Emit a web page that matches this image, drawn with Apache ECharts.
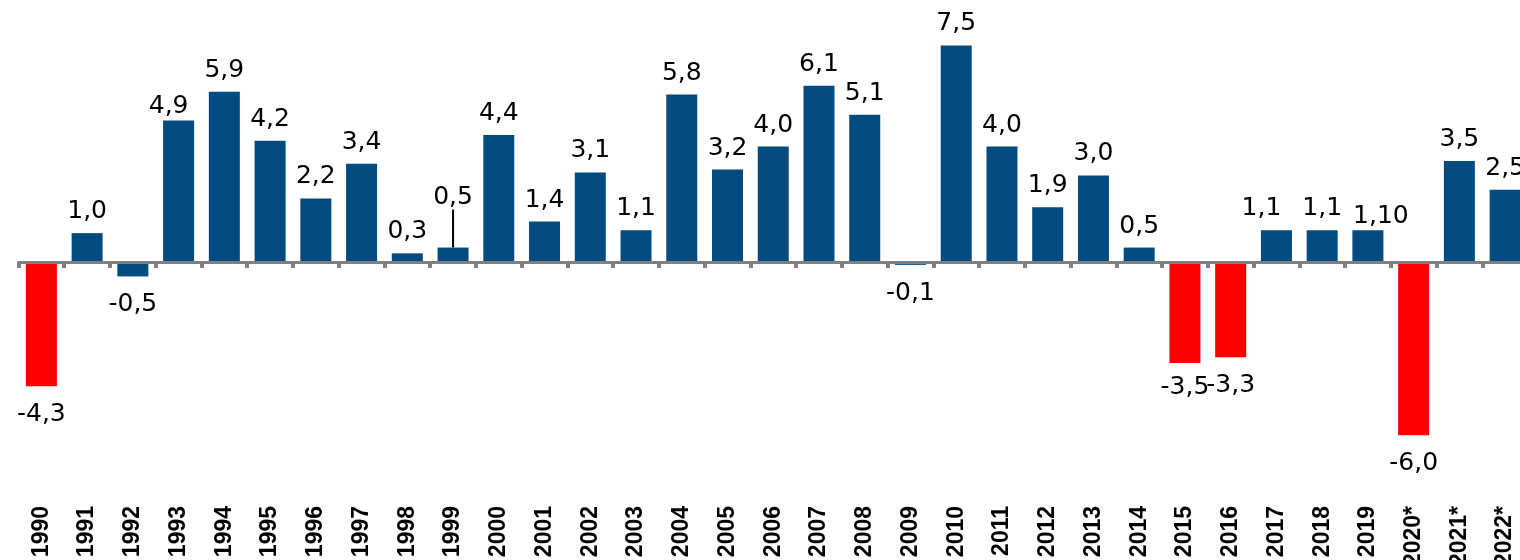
<!DOCTYPE html>
<html>
<head>
<meta charset="utf-8">
<title>growth</title>
<script src="https://cdn.jsdelivr.net/npm/echarts@6/dist/echarts.min.js"></script>
<style>
  html, body { margin: 0; padding: 0; background: #fff; }
  #chart { width: 1520px; height: 560px; }
</style>
</head>
<body>
<div id="chart"></div>
<script>
const years = ['1990', '1991', '1992', '1993', '1994', '1995', '1996', '1997', '1998', '1999',
  '2000', '2001', '2002', '2003', '2004', '2005', '2006', '2007', '2008', '2009',
  '2010', '2011', '2012', '2013', '2014', '2015', '2016', '2017', '2018', '2019',
  '2020*', '2021*', '2022*']
const growth = [-4.3, 1.0, -0.5, 4.9, 5.9, 4.2, 2.2, 3.4, 0.3, 0.5,
  4.4, 1.4, 3.1, 1.1, 5.8, 3.2, 4.0, 6.1, 5.1, -0.1,
  7.5, 4.0, 1.9, 3.0, 0.5, -3.5, -3.3, 1.1, 1.1, 1.1,
  -6.0, 3.5, 2.5]
// years drawn in red
const redYears = ['1990', '2015', '2016', '2020*']
// label text that differs from the plain value
const labelOverride = { '2019': '1,10' }

const BLUE = '#024b81'
const RED = '#ff0000'

// hand-placed labels in the original (dx, dy in px)
const labelNudge = {
  '1993': [-10, 7],
  '1999': [0, -29],
  '2015': [0, -4],
  '2017': [-15, 0],
  '2019': [13, 8]
}

const chart = echarts.init(document.getElementById('chart'))

const seriesData = years.map((y, i) => {
  const neg = growth[i] < 0
  const item = {
    value: growth[i],
    itemStyle: { color: redYears.includes(y) ? RED : BLUE },
    label: { position: neg ? 'bottom' : 'top', distance: neg ? 16 : 9 }
  }
  if (y === '1999') {
    item.labelLine = { show: true, lineStyle: { color: '#000', width: 2 } }
  }
  return item
})

chart.setOption({
  animation: false,
  grid: { left: 18.5, right: -8, top: 31, bottom: 67, containLabel: false, outerBoundsMode: 'none' },
  xAxis: [
    {
      type: 'category',
      data: years,
      position: 'bottom',
      z: 10,
      axisLine: { onZero: true, lineStyle: { color: '#808080', width: 3 } },
      axisTick: { show: true, length: 6, lineStyle: { color: '#808080', width: 4 } },
      axisLabel: { show: false },
      splitLine: { show: false }
    },
    {
      type: 'category',
      data: years,
      position: 'bottom',
      axisLine: { show: false, onZero: false },
      axisTick: { show: false },
      splitLine: { show: false },
      axisLabel: {
        interval: 0,
        rotate: 90,
        margin: 13,
        color: '#000',
        fontFamily: 'Liberation Sans',
        fontWeight: 'bold',
        fontSize: 23
      }
    }
  ],
  yAxis: { type: 'value', min: -8, max: 8, show: false },
  series: [
    {
      type: 'bar',
      xAxisIndex: 0,
      barWidth: 31,
      data: seriesData,
      label: {
        show: true,
        color: '#000',
        fontFamily: 'DejaVu Sans',
        fontSize: 25,
        formatter: p => labelOverride[years[p.dataIndex]] || p.value.toFixed(1).replace('.', ',')
      },
      labelLine: { show: false },
      labelLayout: p => {
        const n = labelNudge[years[p.dataIndex]]
        return n ? { dx: n[0], dy: n[1] } : {}
      }
    }
  ]
})
</script>
</body>
</html>
